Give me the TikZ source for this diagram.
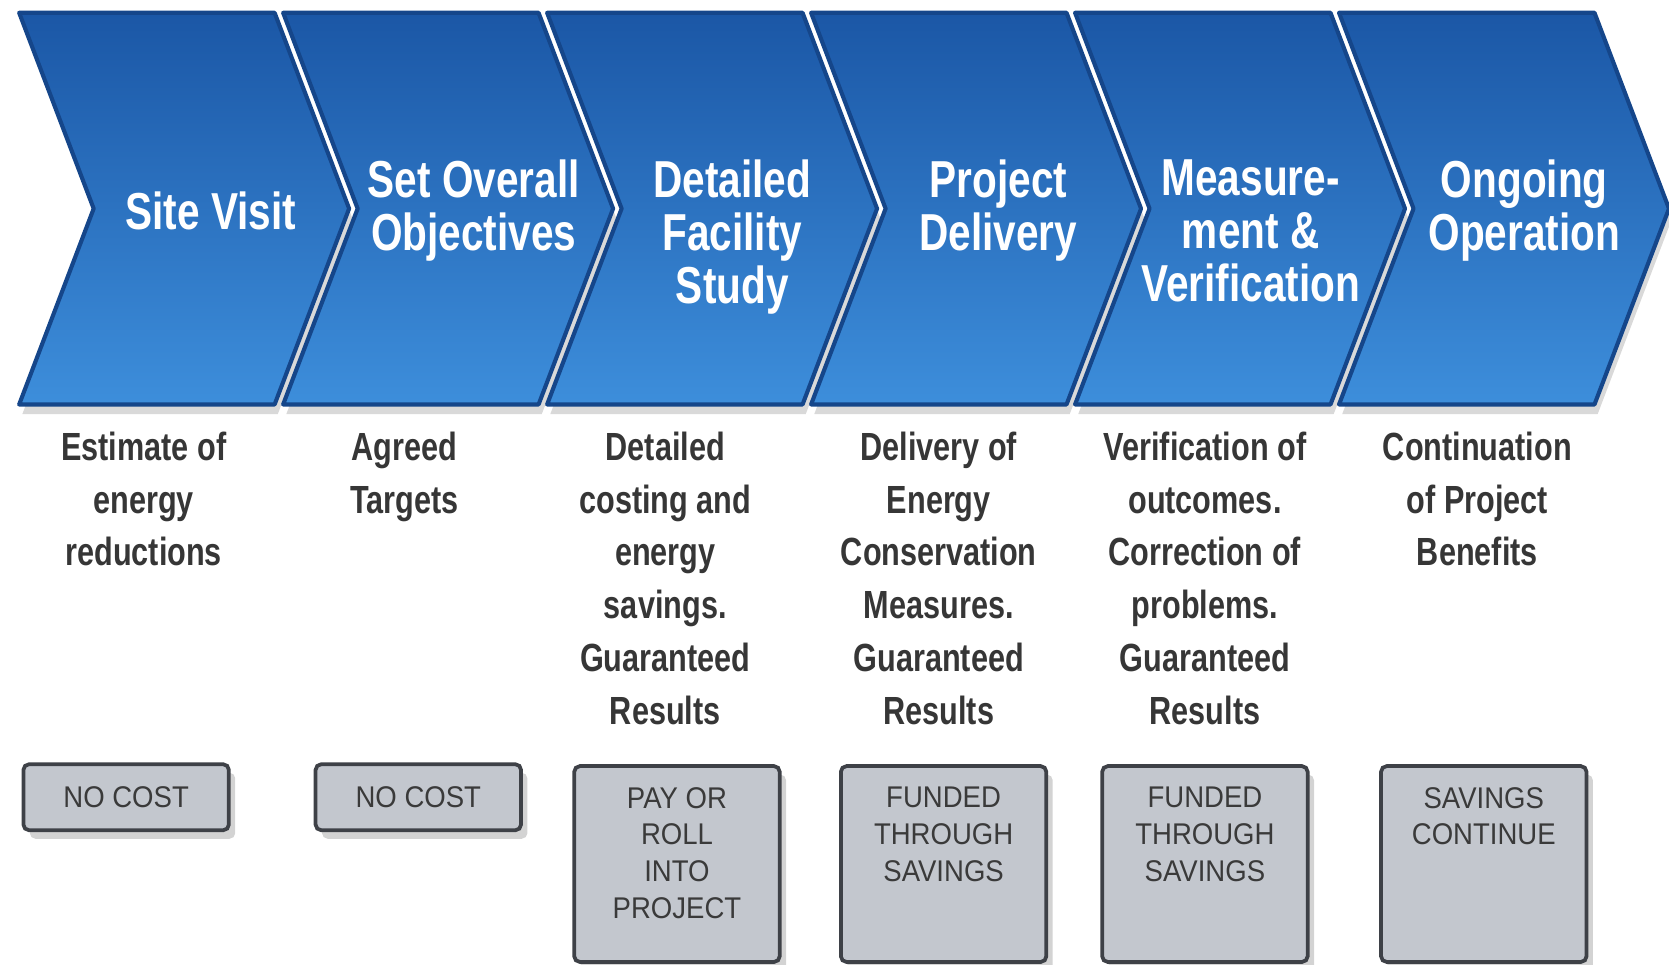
\documentclass[tikz,border=0pt]{standalone}
\usepackage{fontspec}
\setmainfont{Liberation Sans}
\newfontfamily\narrowfont{Liberation Sans}[FakeStretch=0.78]
\newfontfamily\boxfont{Liberation Sans}[FakeStretch=0.92]
\usetikzlibrary{shadows,positioning}
\definecolor{chevtop}{HTML}{1B57A6}
\definecolor{chevbot}{HTML}{3D8EDB}
\definecolor{chevline}{HTML}{15468A}
\definecolor{desctext}{HTML}{363636}
\definecolor{boxfill}{HTML}{C3C7CE}
\definecolor{boxline}{HTML}{3E4147}
\definecolor{boxtext}{HTML}{3A3A3A}

\begin{document}
\begin{tikzpicture}[x=0.1mm, y=-0.1mm,
    chevron/.style={top color=chevtop, bottom color=chevbot, draw=chevline,
      line width=1.1pt, line join=round,
      drop shadow={shadow xshift=0.3mm, shadow yshift=-0.9mm, opacity=0.3}},
    title/.style={font=\narrowfont\bfseries\fontsize{13.9}{14.2}\selectfont,
      text=white, align=center, inner sep=0},
    desc/.style={font=\narrowfont\bfseries\fontsize{10.5}{14.1}\selectfont,
      text=desctext, align=center, anchor=north, inner sep=0},
    costbox/.style={draw=boxline, fill=boxfill, line width=1pt, rounded corners=1.5pt,
      minimum width=19.3mm, inner sep=0,
      drop shadow={shadow xshift=0.6mm, shadow yshift=-0.8mm, opacity=0.35}},
    costtext/.style={font=\boxfont\fontsize{8}{9.8}\selectfont, text=boxtext,
      align=center, inner sep=0}]
  \useasboundingbox (0,0) rectangle (1568,906);

  % arrow bar
  \foreach \i in {0,...,5} {
    \pgfmathsetmacro\xa{18+248*\i}
    \draw[chevron] (\xa,12) -- ++(240,0) -- ++(70,184) -- ++(-70,184)
      -- ++(-240,0) -- ++(70,-184) -- cycle;
  }

  % stage names
  \node[title] (t1) at (198,198) {Site Visit};
  \node[title, anchor=north] (t2) at (445,149) {Set Overall\\Objectives};
  \node[title, anchor=north] (t3) at (688,149) {Detailed\\Facility\\Study};
  \node[title, anchor=north] (t4) at (938,149) {Project\\Delivery};
  \node[title, anchor=north] (t5) at (1175,149) {Measure-\\ment \&\\Verification};
  \node[title, anchor=north] (t6) at (1432,149) {Ongoing\\Operation};

  % outcomes
  \node[desc] (d1) at (135,405) {Estimate of\\energy\\reductions};
  \node[desc] (d2) at (380,405) {Agreed\\Targets};
  \node[desc] (d3) at (625,405) {Detailed\\costing and\\energy\\savings.\\Guaranteed\\Results};
  \node[desc] (d4) at (882,405) {Delivery of\\Energy\\Conservation\\Measures.\\Guaranteed\\Results};
  \node[desc] (d5) at (1132,405) {Verification of\\outcomes.\\Correction of\\problems.\\Guaranteed\\Results};
  \node[desc] (d6) at (1388,405) {Continuation\\of Project\\Benefits};

  % cost boxes
  \node[costbox, minimum height=6.2mm, costtext] (c1) at (118.5,749) {NO COST};
  \node[costbox, minimum height=6.2mm, costtext] (c2) at (393,749) {NO COST};
  \node[costbox, minimum height=18.4mm, anchor=north] (c3) at (636,718) {};
  \node[costbox, minimum height=18.4mm, anchor=north] (c4) at (886.5,718) {};
  \node[costbox, minimum height=18.4mm, anchor=north] (c5) at (1132,718) {};
  \node[costbox, minimum height=18.4mm, anchor=north] (c6) at (1394,718) {};
  \node[costtext, below=2.1mm of c3.north] (c3text) {PAY OR\\ROLL\\INTO\\PROJECT};
  \node[costtext, below=2.1mm of c4.north] (c4text) {FUNDED\\THROUGH\\SAVINGS};
  \node[costtext, below=2.1mm of c5.north] (c5text) {FUNDED\\THROUGH\\SAVINGS};
  \node[costtext, below=2.1mm of c6.north] (c6text) {SAVINGS\\CONTINUE};
\end{tikzpicture}
\end{document}
